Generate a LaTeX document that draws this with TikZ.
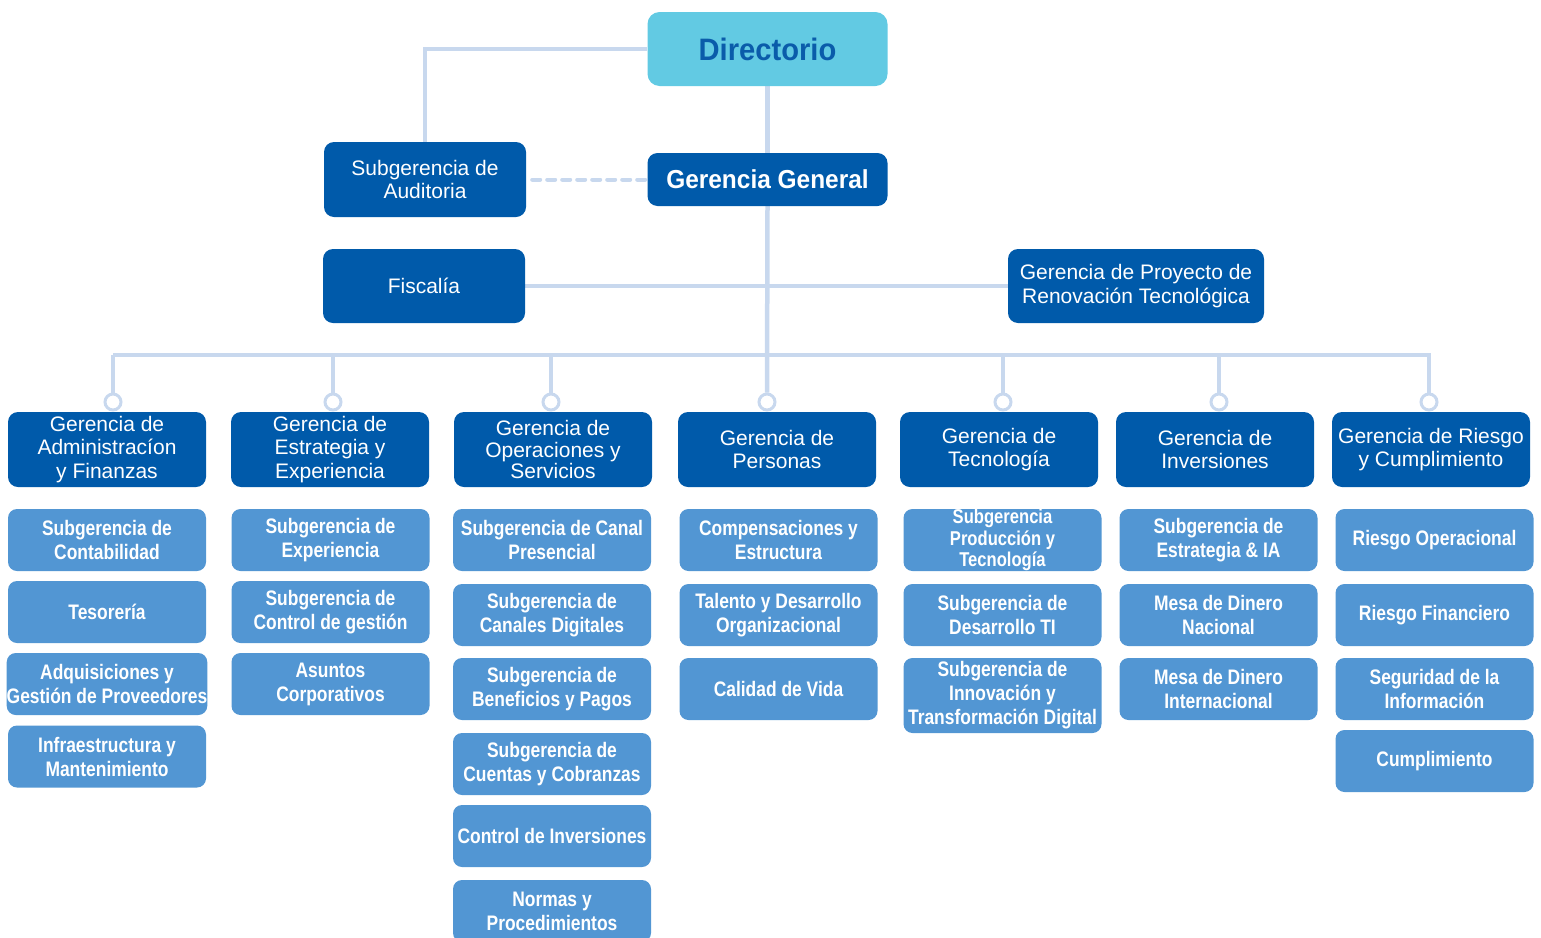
\documentclass[tikz,border=0pt]{standalone}
\usepackage{fontspec}
\setmainfont{Liberation Sans}
\newfontfamily\condfam[FakeStretch=0.83]{Liberation Sans}
\newfontfamily\topfam[FakeStretch=0.94]{Liberation Sans}
\usetikzlibrary{backgrounds}
\definecolor{darkb}{HTML}{005AAA}
\definecolor{subb}{HTML}{5296D3}
\definecolor{linec}{HTML}{C8D8EE}
\definecolor{dirc}{HTML}{62CAE3}
\definecolor{dirt}{HTML}{0A5CAA}
\tikzset{
  conn/.style={draw=linec, line width=4.5pt},
  base/.style={rectangle, rounded corners=10pt, inner sep=0pt, align=center, text=white},
  topbox/.style={base, fill=darkb, minimum width=202pt, minimum height=75pt, font=\fontsize{21}{23.5}\selectfont},
  gbox/.style={base, fill=darkb, minimum width=198pt, minimum height=75pt, font=\fontsize{21}{23.5}\selectfont},
  sbox/.style={base, fill=subb, rounded corners=9pt, minimum width=198pt, minimum height=62pt, font=\condfam\bfseries\fontsize{21}{24}\selectfont},
  knob/.style={circle, draw=linec, line width=3pt, fill=white, minimum size=16pt, inner sep=0pt},
}
\begin{document}
\begin{tikzpicture}[x=1pt,y=-1pt]
\useasboundingbox (0,0) rectangle (1541,937);
% top level
\node[base, fill=dirc, text=dirt, rounded corners=12pt, minimum width=240pt, minimum height=74pt, font=\topfam\bfseries\fontsize{31}{34}\selectfont] (dir) at (767.5,49) {Directorio};
\node[base, fill=darkb, minimum width=240pt, minimum height=53pt, font=\topfam\bfseries\fontsize{26}{30}\selectfont] (gg) at (767.5,179.5) {Gerencia General};
\node[topbox] (aud) at (425,179.5) {Subgerencia de\\Auditoria};
\node[topbox, minimum height=74pt] (fis) at (424,286) {Fiscalía};
\node[topbox, minimum width=256pt, minimum height=74pt] (proy) at (1136,286) {Gerencia de Proyecto de\\Renovación Tecnológica};
% bus
\coordinate (busL) at (113,355);
\coordinate (busR) at (1431,355);
% knobs
\node[knob] (k1) at (113,402) {};
\node[knob] (k2) at (333,402) {};
\node[knob] (k3) at (551,402) {};
\node[knob] (k4) at (767,402) {};
\node[knob] (k5) at (1003,402) {};
\node[knob] (k6) at (1219,402) {};
\node[knob] (k7) at (1429,402) {};
% gerencias
\node[gbox] (g1) at (107,449.5) {Gerencia de\\Administracíon\\y Finanzas};
\node[gbox] (g2) at (330,449.5) {Gerencia de\\Estrategia y\\Experiencia};
\node[gbox, font=\fontsize{21}{21.5}\selectfont] (g3) at (553,449.5) {Gerencia de\\Operaciones y\\Servicios};
\node[gbox] (g4) at (777,449.5) {Gerencia de\\Personas};
\node[gbox] (g5) at (999,449.5) {Gerencia de\\Tecnología};
\node[gbox] (g6) at (1215,449.5) {Gerencia de\\Inversiones};
\node[gbox] (g7) at (1431,449.5) {Gerencia de Riesgo\\y Cumplimiento};
% column 1
\node[sbox] (a1) at (107,540) {Subgerencia de\\Contabilidad};
\node[sbox] (a2) at (107,612) {Tesorería};
\node[sbox] (a3) at (107,684) {Adquisiciones y\\Gestión de Proveedores};
\node[sbox] (a4) at (107,756.5) {Infraestructura y\\Mantenimiento};
% column 2
\node[sbox] (b1) at (330.5,540) {Subgerencia de\\Experiencia};
\node[sbox] (b2) at (330.5,612) {Subgerencia de\\Control de gestión};
\node[sbox] (b3) at (330.5,684) {Asuntos\\Corporativos};
% column 3
\node[sbox] (c1) at (552,540) {Subgerencia de Canal\\Presencial};
\node[sbox] (c2) at (552,615) {Subgerencia de\\Canales Digitales};
\node[sbox] (c3) at (552,689) {Subgerencia de\\Beneficios y Pagos};
\node[sbox] (c4) at (552,764) {Subgerencia de\\Cuentas y Cobranzas};
\node[sbox] (c5) at (552,836) {Control de Inversiones};
\node[sbox] (c6) at (552,911) {Normas y\\Procedimientos};
% column 4
\node[sbox] (d1) at (778.5,540) {Compensaciones y\\Estructura};
\node[sbox] (d2) at (778.5,615) {Talento y Desarrollo\\Organizacional};
\node[sbox] (d3) at (778.5,689) {Calidad de Vida};
% column 5
\node[sbox, font=\condfam\bfseries\fontsize{20}{21.5}\selectfont] (e1) at (1002.5,540) {Subgerencia\\Producción y\\Tecnología};
\node[sbox] (e2) at (1002.5,615) {Subgerencia de\\Desarrollo TI};
\node[sbox, minimum height=75pt] (e3) at (1002.5,695.5) {Subgerencia de\\Innovación y\\Transformación Digital};
% column 6
\node[sbox] (f1) at (1218.5,540) {Subgerencia de\\Estrategia \& IA};
\node[sbox] (f2) at (1218.5,615) {Mesa de Dinero\\Nacional};
\node[sbox] (f3) at (1218.5,689) {Mesa de Dinero\\Internacional};
% column 7
\node[sbox] (h1) at (1434.5,540) {Riesgo Operacional};
\node[sbox] (h2) at (1434.5,615) {Riesgo Financiero};
\node[sbox] (h3) at (1434.5,689) {Seguridad de la\\Información};
\node[sbox] (h4) at (1434.5,761) {Cumplimiento};
% connectors
\begin{pgfonlayer}{background}
\draw[conn] (dir.west) -| (aud.north);
\draw[conn] (dir.south) -- (gg.north);
\draw[conn, line width=4pt, line cap=round, dash pattern=on 8pt off 7pt] ([xshift=6pt]aud.east) -- (gg.west);
\draw[conn] (fis.east) -- (proy.west);
\draw[conn] (gg.south) -- (k4.north);
\draw[conn] (busL) -- (busR);
\foreach \k in {k1,k2,k3,k5,k6,k7}{
  \draw[conn, line width=4pt] (\k.north |- busL) -- (\k.north);
}
\end{pgfonlayer}
\end{tikzpicture}
\end{document}
